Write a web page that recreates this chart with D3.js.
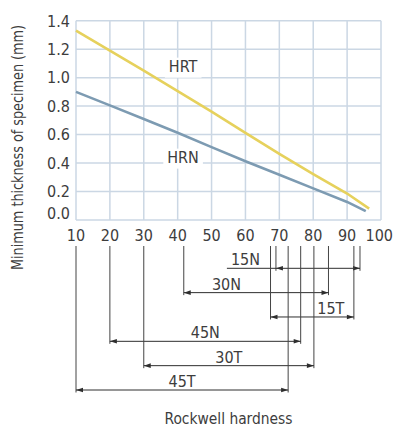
<!DOCTYPE html>
<html>
<head>
<meta charset="utf-8">
<script src="https://cdn.jsdelivr.net/npm/d3@7"></script>
<style>
  body { margin: 0; background: #fff; }
  text { font-family: "Liberation Sans Narrow", "DejaVu Sans Condensed", "Roboto", sans-serif; fill: #3d3d3d; }
</style>
</head>
<body>
<svg id="chart" width="393" height="428"></svg>
<script>
// tick values
const xTicks = [10, 20, 30, 40, 50, 60, 70, 80, 90, 100];
const yTicks = [0, 0.2, 0.4, 0.6, 0.8, 1.0, 1.2, 1.4];

// thickness curves
const hrtHardness = [10, 20, 30, 40, 50, 60, 70, 80, 90, 96.5];
const hrtThickness = [1.33, 1.19, 1.05, 0.905, 0.762, 0.612, 0.465, 0.322, 0.186, 0.08];
const hrnHardness = [10, 20, 30, 40, 50, 60, 70, 80, 90, 95.5];
const hrnThickness = [0.9, 0.805, 0.71, 0.613, 0.512, 0.413, 0.318, 0.222, 0.127, 0.062];

// scale ranges (lower / upper hardness)
const scaleNames = ["15N", "30N", "15T", "45N", "30T", "45T"];
const scaleLow = [69, 41.8, 67.4, 20, 30, 10];
const scaleHigh = [93.8, 84.5, 92, 76.3, 80.2, 72.6];
const labelAt = [60, 54.4, 85.2, null, null, null]; // null = centred

let svg = d3.select("#chart");
let x = d3.scaleLinear().domain([10, 100]).range([76, 381]);
let y = d3.scaleLinear().domain([0, 1.4]).range([220, 20.7]);
let row = d3.scalePoint().domain(scaleNames).range([268.3, 390]);

const gridColor = "#cbd7e4";
const ink = "#2e2e2e";

// grid
let grid = svg.append("g");
grid.selectAll(".vg").data(xTicks).enter().append("line")
  .attr("x1", d => x(d)).attr("x2", d => x(d))
  .attr("y1", y(0)).attr("y2", y(1.4))
  .attr("stroke", gridColor).attr("stroke-width", 1.5);
grid.selectAll(".hg").data(yTicks).enter().append("line")
  .attr("x1", x(10)).attr("x2", x(100))
  .attr("y1", d => y(d)).attr("y2", d => y(d))
  .attr("stroke", gridColor).attr("stroke-width", 1.5);

// tick labels
svg.append("g").selectAll("text").data(yTicks).enter().append("text")
  .attr("x", 70)
  .attr("y", d => y(d) + (d === 0 ? -1.5 : 5.8))
  .attr("text-anchor", "end")
  .attr("font-size", 16)
  .text(d => d3.format(".1f")(d));
svg.append("g").selectAll("text").data(xTicks).enter().append("text")
  .attr("x", d => d === 100 ? 393 : x(d))
  .attr("y", 240.5)
  .attr("text-anchor", d => d === 100 ? "end" : "middle")
  .attr("font-size", 16)
  .text(d => d);

// curves
let line = d3.line().x(d => x(d[0])).y(d => y(d[1]));
svg.append("path")
  .datum(d3.zip(hrtHardness, hrtThickness))
  .attr("d", line).attr("fill", "none")
  .attr("stroke", "#e6d15c").attr("stroke-width", 2.6);
svg.append("path")
  .datum(d3.zip(hrnHardness, hrnThickness))
  .attr("d", line).attr("fill", "none")
  .attr("stroke", "#7d9bb2").attr("stroke-width", 2.6);

// curve labels with white box behind
function boxedLabel(txt, hx, thk) {
  let g = svg.append("g");
  let t = g.append("text")
    .attr("x", x(hx)).attr("y", y(thk))
    .attr("text-anchor", "middle")
    .attr("font-size", 16)
    .text(txt);
  let b = t.node().getBBox();
  g.insert("rect", "text")
    .attr("x", b.x - 4).attr("y", b.y + 1)
    .attr("width", b.width + 8).attr("height", b.height + 1)
    .attr("fill", "#fff");
}
boxedLabel("HRT", 41.6, 1.042);
boxedLabel("HRN", 41.6, 0.403);

// range diagram
let ranges = scaleNames.map((n, i) => ({
  name: n, lo: scaleLow[i], hi: scaleHigh[i],
  at: labelAt[i] == null ? (scaleLow[i] + scaleHigh[i]) / 2 : labelAt[i]
}));
let topY = 246;

let rg = svg.append("g");
ranges.forEach(r => {
  let ry = row(r.name);
  [r.lo, r.hi].forEach(v => {
    rg.append("line")
      .attr("x1", x(v)).attr("x2", x(v))
      .attr("y1", topY).attr("y2", ry + 2.5)
      .attr("stroke", "#444").attr("stroke-width", 1);
  });
  let lab = rg.append("text")
    .attr("x", x(r.at)).attr("y", ry - 3)
    .attr("text-anchor", "middle")
    .attr("font-size", 16)
    .text(r.name);
  let lw = lab.node().getComputedTextLength();
  let start = Math.min(x(r.lo), x(r.at) - lw / 2 - 4);
  rg.append("line")
    .attr("x1", start).attr("x2", x(r.hi))
    .attr("y1", ry).attr("y2", ry)
    .attr("stroke", ink).attr("stroke-width", 1);
  rg.append("path")
    .attr("d", `M${x(r.lo)},${ry}l7,-2.3v4.6z`)
    .attr("fill", ink);
  rg.append("path")
    .attr("d", `M${x(r.hi)},${ry}l-7,-2.3v4.6z`)
    .attr("fill", ink);
});

// axis titles (squeezed to the narrow face of the original)
svg.append("text")
  .attr("transform", "translate(23,147.5) rotate(-90)")
  .attr("text-anchor", "middle")
  .attr("font-size", 15.5)
  .attr("textLength", 245)
  .attr("lengthAdjust", "spacingAndGlyphs")
  .text("Minimum thickness of specimen (mm)");
svg.append("text")
  .attr("x", x(55)).attr("y", 424)
  .attr("text-anchor", "middle")
  .attr("font-size", 16)
  .attr("textLength", 128)
  .attr("lengthAdjust", "spacingAndGlyphs")
  .text("Rockwell hardness");
</script>
</body>
</html>
